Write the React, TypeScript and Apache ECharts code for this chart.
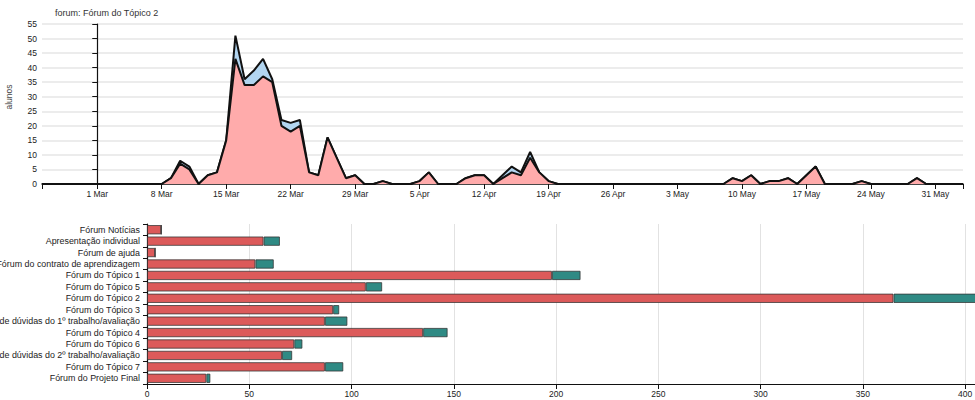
import React, { useEffect, useRef } from "react";
import * as echarts from "echarts";

// ---- Top chart: daily students (days counted from 1 Mar) ----
const firstDay = -6;
const lastDay = 94;
const pinkValues = [
  0, 0, 0, 0, 0, 0, 0, 0, 0, 0, 0, 0, 0, // d-6..d6
  0, 2, 7, 5, 0, 3, 4, 15, // d7..d14
  43, 34, 34, 37, 35, 20, 18, 20, // d15..d22
  4, 3, 16, 9, 2, 3, 0, 0, 1, 0, 0, 0, 1, 4, 0, 0, 0, // d23..d39
  2, 3, 3, 0, 2, 4, 3, 9, 4, 1, // d40..d49
  0, 0, 0, 0, 0, 0, 0, 0, 0, 0, 0, 0, 0, 0, 0, 0, 0, 0, 0, // d50..d68
  2, 1, 3, 0, 1, 1, 2, 0, 3, 6, // d69..d78
  0, 0, 0, 0, 1, 0, 0, 0, 0, 0, 2, 0, 0, 0, 0, 0, // d79..d94
];
const blueValues = [
  0, 0, 0, 0, 0, 0, 0, 0, 0, 0, 0, 0, 0,
  0, 0, 1, 1, 0, 0, 0, 0,
  8, 2, 5, 6, 1, 2, 3, 2,
  0, 0, 0, 0, 0, 0, 0, 0, 0, 0, 0, 0, 0, 0, 0, 0, 0,
  0, 0, 0, 0, 1, 2, 1, 2, 0, 0,
  0, 0, 0, 0, 0, 0, 0, 0, 0, 0, 0, 0, 0, 0, 0, 0, 0, 0, 0,
  0, 0, 0, 0, 0, 0, 0, 0, 0, 0,
  0, 0, 0, 0, 0, 0, 0, 0, 0, 0, 0, 0, 0, 0, 0, 0,
];
const dateTickDays = [0, 7, 14, 21, 28, 35, 42, 49, 56, 63, 70, 77, 84, 91];
const dateTickLabels = [
  "1 Mar", "8 Mar", "15 Mar", "22 Mar", "29 Mar", "5 Apr", "12 Apr",
  "19 Apr", "26 Apr", "3 May", "10 May", "17 May", "24 May", "31 May",
];

// ---- Bottom chart: per forum ----
const forumNames = [
  "Fórum Notícias",
  "Apresentação individual",
  "Fórum de ajuda",
  "Fórum do contrato de aprendizagem",
  "Fórum do Tópico 1",
  "Fórum do Tópico 5",
  "Fórum do Tópico 2",
  "Fórum do Tópico 3",
  "Fórum de dúvidas do 1º trabalho/avaliação",
  "Fórum do Tópico 4",
  "Fórum do Tópico 6",
  "Fórum de dúvidas do 2º trabalho/avaliação",
  "Fórum do Tópico 7",
  "Fórum do Projeto Final",
];
const redValues = [7, 57, 4, 53, 198, 107, 365, 91, 87, 135, 72, 66, 87, 29];
const tealValues = [0, 8, 0, 9, 14, 8, 45, 3, 11, 12, 4, 5, 9, 2];

const FONT = "Liberation Sans, Arial, sans-serif";

export default function App() {
  const ref = useRef<HTMLDivElement>(null);
  useEffect(() => {
    if (!ref.current) return;
    const chart = echarts.init(ref.current, null, { renderer: "svg" });
    const days = pinkValues.map((_, i) => firstDay + i);
    const totals = pinkValues.map((v, i) => v + blueValues[i]);
    const axisTextStyle = { fontSize: 8.5, color: "#222", fontFamily: FONT };
    chart.setOption({
      animation: false,
      textStyle: { fontFamily: FONT },
      title: {
        text: "forum: Fórum do Tópico 2",
        left: 50,
        top: 3,
        textStyle: { fontSize: 9, fontWeight: "normal", color: "#333", fontFamily: FONT },
      },
      grid: [
        { left: 42, top: 24, right: 12, height: 160, outerBoundsMode: "none", containLabel: false },
        { left: 147, top: 224, width: 859, height: 160, outerBoundsMode: "none", containLabel: false },
      ],
      xAxis: [
        {
          type: "value",
          gridIndex: 0,
          min: firstDay,
          max: lastDay,
          axisLine: { show: true, lineStyle: { color: "#111", width: 1.5 } },
          axisTick: {
            show: true,
            length: 5,
            customValues: [firstDay, ...dateTickDays, lastDay],
            lineStyle: { color: "#111" },
          },
          axisLabel: {
            ...axisTextStyle,
            margin: 5,
            customValues: dateTickDays,
            formatter: (v: number) => {
              const k = dateTickDays.indexOf(Math.round(v));
              return k >= 0 ? dateTickLabels[k] : "";
            },
          },
          splitLine: { show: false },
        },
        {
          type: "value",
          gridIndex: 1,
          min: 0,
          max: 420,
          interval: 50,
          axisLine: { show: true, lineStyle: { color: "#111", width: 1.2 } },
          axisTick: { show: true, length: 5, lineStyle: { color: "#111" } },
          axisLabel: { ...axisTextStyle, margin: 5, showMaxLabel: false },
          splitLine: { show: true, lineStyle: { color: "#e2e2e2", width: 1 } },
        },
      ],
      yAxis: [
        {
          type: "value",
          gridIndex: 0,
          min: 0,
          max: 55,
          interval: 5,
          name: "alunos",
          nameLocation: "middle",
          nameGap: 29,
          nameTextStyle: { fontSize: 8.5, color: "#444", fontFamily: FONT, padding: [0, 0, 0, 14] },
          axisLine: { show: true, lineStyle: { color: "#111", width: 1.2 } },
          axisTick: { show: true, length: 5, lineStyle: { color: "#111" } },
          axisLabel: { ...axisTextStyle, margin: 5 },
          splitLine: { show: true, lineStyle: { color: "#e6e6e6", width: 1.5 } },
        },
        {
          type: "category",
          gridIndex: 1,
          data: forumNames,
          inverse: true,
          axisLine: { show: true, lineStyle: { color: "#111", width: 1.2 } },
          axisTick: { show: true, length: 4, lineStyle: { color: "#111" } },
          axisLabel: { ...axisTextStyle, fontSize: 8.9, margin: 7, interval: 0, hideOverlap: false },
          splitLine: { show: false },
        },
      ],
      series: [
        {
          type: "line",
          xAxisIndex: 0,
          yAxisIndex: 0,
          symbol: "none",
          data: totals.map((v, i) => [days[i], v]),
          lineStyle: { color: "#111", width: 2 },
          areaStyle: { color: "#b2d5f0", opacity: 1 },
          z: 2,
        },
        {
          type: "line",
          xAxisIndex: 0,
          yAxisIndex: 0,
          symbol: "none",
          data: pinkValues.map((v, i) => [days[i], v]),
          lineStyle: { color: "#111", width: 2 },
          areaStyle: { color: "#ffabab", opacity: 1 },
          z: 3,
        },
        {
          type: "bar",
          xAxisIndex: 1,
          yAxisIndex: 1,
          stack: "forum",
          data: redValues,
          barCategoryGap: "18%",
          itemStyle: { color: "#dc5a5a", borderColor: "rgba(50,50,50,0.75)", borderWidth: 1 },
        },
        {
          type: "bar",
          xAxisIndex: 1,
          yAxisIndex: 1,
          stack: "forum",
          data: tealValues,
          barCategoryGap: "18%",
          itemStyle: { color: "#2f8a84", borderColor: "rgba(50,50,50,0.75)", borderWidth: 1 },
        },
      ],
    });
    return () => chart.dispose();
  }, []);
  return (
    <div
      ref={ref}
      style={{ position: "fixed", left: 0, top: 0, width: 975, height: 400, background: "#fff" }}
    />
  );
}
